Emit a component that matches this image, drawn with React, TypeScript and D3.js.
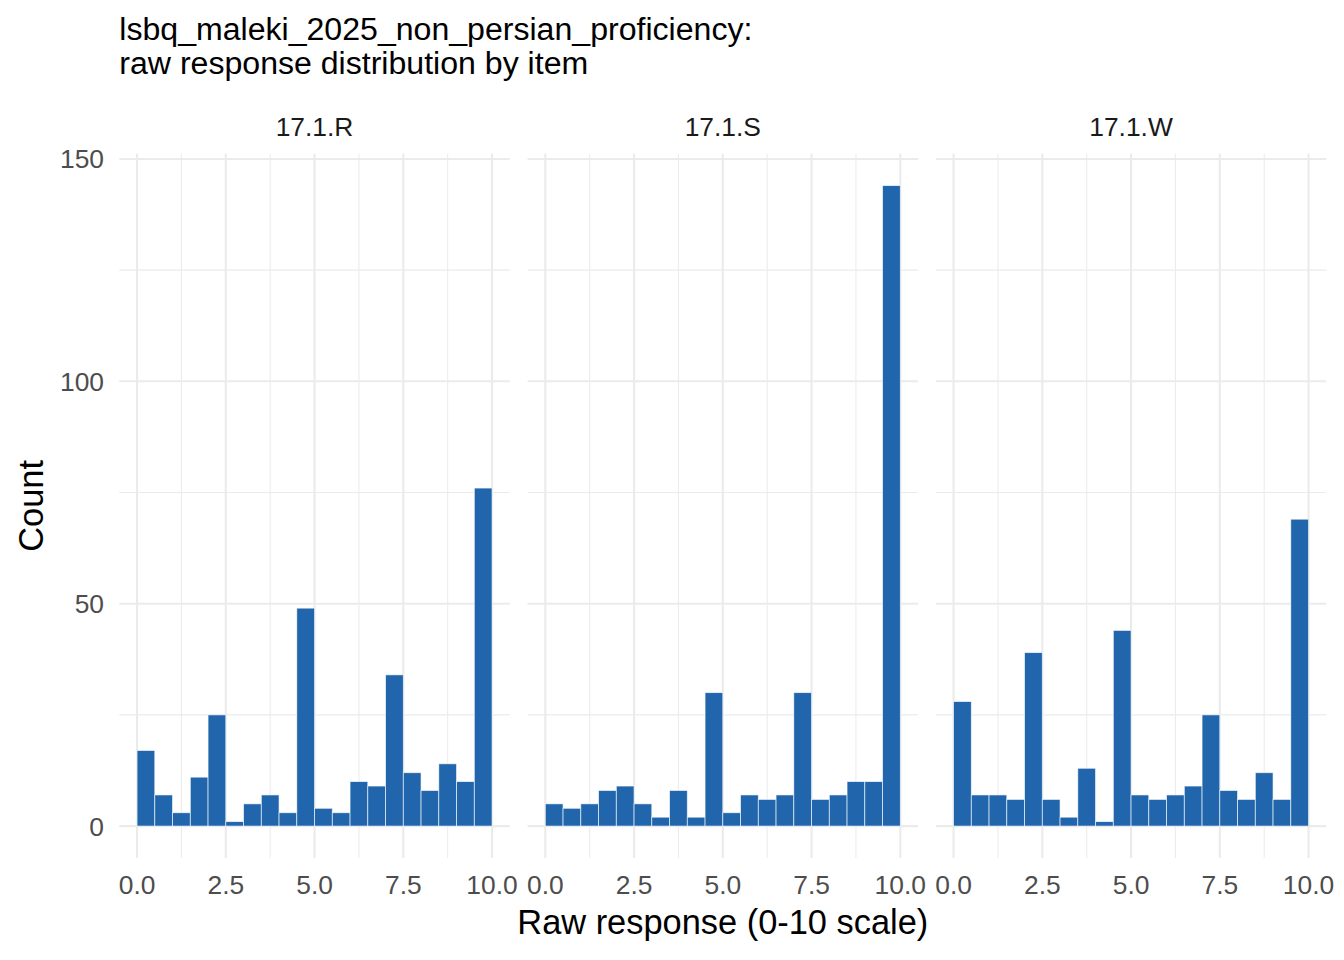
import React, { useEffect, useRef } from 'react';
import * as d3 from 'd3';

const items = ['17.1.R', '17.1.S', '17.1.W'];
const binStarts = [0, 0.5, 1, 1.5, 2, 2.5, 3, 3.5, 4, 4.5, 5, 5.5, 6, 6.5, 7, 7.5, 8, 8.5, 9, 9.5];
const binWidth = 0.5;
const countsR = [17, 7, 3, 11, 25, 1, 5, 7, 3, 49, 4, 3, 10, 9, 34, 12, 8, 14, 10, 76];
const countsS = [5, 4, 5, 8, 9, 5, 2, 8, 2, 30, 3, 7, 6, 7, 30, 6, 7, 10, 10, 144];
const countsW = [28, 7, 7, 6, 39, 6, 2, 13, 1, 44, 7, 6, 7, 9, 25, 8, 6, 12, 6, 69];
const xTicks = [0, 2.5, 5, 7.5, 10];
const xMinor = [1.25, 3.75, 6.25, 8.75];
const yTicks = [0, 50, 100, 150];
const yMinor = [25, 75, 125];
const titleLines = ['lsbq_maleki_2025_non_persian_proficiency:', 'raw response distribution by item'];
const xLabel = 'Raw response (0-10 scale)';
const yLabel = 'Count';

const FONT = '"Liberation Sans", Arial, Helvetica, sans-serif';
const W = 1344;
const H = 960;

const App: React.FC = () => {
  const svgRef = useRef<SVGSVGElement>(null);

  useEffect(() => {
    const el = svgRef.current;
    if (!el) return;
    const svg = d3.select(el);
    svg.selectAll('*').remove();

    const counts = [countsR, countsS, countsW];

    // facet panels
    const panel = d3.scaleBand<string>().domain(items).range([119.3, 1326.3]).paddingInner(0.04348).paddingOuter(0);
    const y = d3.scaleLinear().domain([-7.2, 151.2]).range([858.1, 153.6]);
    const [yBottom, yTop] = y.range();

    items.forEach((item, pi) => {
      const left = panel(item)!;
      const x = d3.scaleLinear().domain([-0.5, 10.5]).range([left, left + panel.bandwidth()]);
      const g = svg.append('g');

      // minor grid
      g.selectAll('line.ymin')
        .data(yMinor)
        .join('line')
        .attr('x1', left)
        .attr('x2', left + panel.bandwidth())
        .attr('y1', (d) => y(d))
        .attr('y2', (d) => y(d))
        .attr('stroke', '#EBEBEB')
        .attr('stroke-width', 1.05);
      g.selectAll('line.xmin')
        .data(xMinor)
        .join('line')
        .attr('x1', (d) => x(d))
        .attr('x2', (d) => x(d))
        .attr('y1', yTop)
        .attr('y2', yBottom)
        .attr('stroke', '#EBEBEB')
        .attr('stroke-width', 1.05);

      // major grid
      g.selectAll('line.ymaj')
        .data(yTicks)
        .join('line')
        .attr('x1', left)
        .attr('x2', left + panel.bandwidth())
        .attr('y1', (d) => y(d))
        .attr('y2', (d) => y(d))
        .attr('stroke', '#EBEBEB')
        .attr('stroke-width', 2.1);
      g.selectAll('line.xmaj')
        .data(xTicks)
        .join('line')
        .attr('x1', (d) => x(d))
        .attr('x2', (d) => x(d))
        .attr('y1', yTop)
        .attr('y2', yBottom)
        .attr('stroke', '#EBEBEB')
        .attr('stroke-width', 2.1);

      // bars
      g.selectAll('rect')
        .data(binStarts.map((s, i) => ({ s, n: counts[pi][i] })))
        .join('rect')
        .attr('x', (d) => x(d.s))
        .attr('width', (d) => x(d.s + binWidth) - x(d.s))
        .attr('y', (d) => y(d.n))
        .attr('height', (d) => y(0) - y(d.n))
        .attr('fill', '#2166AC')
        .attr('stroke', '#FFFFFF')
        .attr('stroke-opacity', 0.75)
        .attr('stroke-width', 0.8);

      // strip label
      g.append('text')
        .attr('x', left + panel.bandwidth() / 2)
        .attr('y', 136)
        .attr('text-anchor', 'middle')
        .attr('fill', '#1A1A1A')
        .attr('font-size', 26.4)
        .text(item);

      // x tick labels
      g.selectAll('text.xt')
        .data(xTicks)
        .join('text')
        .attr('x', (d) => x(d))
        .attr('y', 894)
        .attr('text-anchor', 'middle')
        .attr('fill', '#4D4D4D')
        .attr('font-size', 26.4)
        .text((d) => d3.format('.1f')(d));
    });

    // y tick labels
    svg
      .append('g')
      .selectAll('text')
      .data(yTicks)
      .join('text')
      .attr('x', 104)
      .attr('y', (d) => y(d) + 9.5)
      .attr('text-anchor', 'end')
      .attr('fill', '#4D4D4D')
      .attr('font-size', 26.4)
      .text((d) => String(d));

    // axis titles
    svg
      .append('text')
      .attr('x', 722.8)
      .attr('y', 934)
      .attr('text-anchor', 'middle')
      .attr('fill', '#000000')
      .attr('font-size', 34.4)
      .text(xLabel);
    svg
      .append('text')
      .attr('transform', `translate(42.5, ${(yTop + yBottom) / 2}) rotate(-90)`)
      .attr('text-anchor', 'middle')
      .attr('fill', '#000000')
      .attr('font-size', 34.4)
      .text(yLabel);

    // title
    svg
      .append('g')
      .selectAll('text')
      .data(titleLines)
      .join('text')
      .attr('x', 119.3)
      .attr('y', (_, i) => 39.5 + i * 34)
      .attr('fill', '#000000')
      .attr('font-size', 32.1)
      .text((d) => d);
  }, []);

  return (
    <svg
      ref={svgRef}
      width={W}
      height={H}
      style={{ position: 'absolute', left: 0, top: 0, display: 'block', background: '#FFFFFF', fontFamily: FONT }}
    />
  );
};

export default App;
